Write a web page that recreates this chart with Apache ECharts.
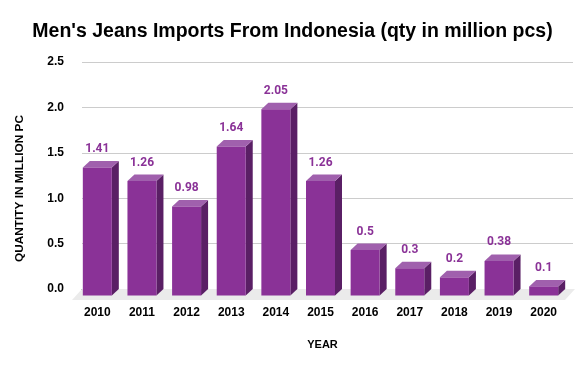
<!DOCTYPE html>
<html>
<head>
<meta charset="utf-8">
<script src="https://cdn.jsdelivr.net/npm/echarts@6/dist/echarts.min.js"></script>
<style>html,body{margin:0;padding:0;background:#fff}#c{width:585px;height:371px}</style>
</head>
<body>
<div id="c"></div>
<script>
var years = ['2010','2011','2012','2013','2014','2015','2016','2017','2018','2019','2020'];
var imports = [1.41, 1.26, 0.98, 1.64, 2.05, 1.26, 0.5, 0.3, 0.2, 0.38, 0.1];
var yTicks = [0, 0.5, 1.0, 1.5, 2.0, 2.5];

var DX = 7, DY = 6.5, HALF = 14.5;
var chart = echarts.init(document.getElementById('c'));

function renderBar(params, api) {
  var i = api.value(0), v = api.value(1);
  var top = api.coord([i, v]);
  var zero = api.coord([i, 0]);
  var cx = top[0] - DX;
  var fl = cx - HALF, fr = cx + HALF;
  var yt = top[1] + DY, yb = zero[1] + DY;
  return {
    type: 'group',
    children: [
      { type: 'polygon', shape: { points: [[fr, yt], [fr + DX, top[1]], [fr + DX, zero[1]], [fr, yb]] }, style: { fill: '#5a1f65' } },
      { type: 'polygon', shape: { points: [[fl, yt], [fr, yt], [fr + DX, top[1]], [fl + DX, top[1]]] }, style: { fill: '#a060ad' } },
      { type: 'rect', shape: { x: fl, y: yt, width: fr - fl, height: yb - yt }, style: { fill: '#8a3297' } },
      { type: 'text', x: cx, y: top[1] - 12, style: { text: String(v), fill: '#8a3297', font: 'bold 12px Roboto', align: 'center', verticalAlign: 'middle' } }
    ]
  };
}

function renderFloor(params, api) {
  if (params.dataIndex !== 0) return null;
  var cs = params.coordSys;
  var y0 = cs.y + cs.height;
  var x0 = cs.x, x1 = cs.x + cs.width;
  return {
    type: 'polygon',
    shape: { points: [[x0, y0], [x1 + 2, y0], [x1 - 8, y0 + 11], [x0 - 10, y0 + 11]] },
    style: { fill: '#ebebeb' },
    z2: -10
  };
}

chart.setOption({
  animation: false,
  title: {
    text: "Men's Jeans Imports From Indonesia (qty in million pcs)",
    left: 'center', top: 17,
    textStyle: { fontFamily: 'Liberation Sans, Arial', fontWeight: 'bold', fontSize: 19.5, color: '#000' }
  },
  grid: { left: 82, right: 12, top: 62, bottom: 82 },
  xAxis: {
    type: 'category', data: years,
    name: 'YEAR', nameLocation: 'middle', nameGap: 50,
    nameTextStyle: { fontFamily: 'Liberation Sans, Arial', fontWeight: 'bold', fontSize: 11, color: '#000', padding: [0, 10, 0, 0] },
    axisLine: { show: true, lineStyle: { color: '#333', width: 1 } },
    axisTick: { show: false },
    axisLabel: { margin: 18, fontFamily: 'Liberation Sans, Arial', fontWeight: 'bold', fontSize: 12, color: '#000', padding: [0, 14, 0, 0] }
  },
  yAxis: {
    type: 'value', min: 0, max: 2.5, interval: 0.5,
    name: 'QUANTITY IN MILLION PC', nameLocation: 'middle', nameGap: 56, nameRotate: 90,
    nameTextStyle: { fontFamily: 'Liberation Sans, Arial', fontWeight: 'bold', fontSize: 11.8, color: '#000', padding: [0, 26, 0, 0] },
    axisLine: { show: false }, axisTick: { show: false },
    splitLine: { lineStyle: { color: '#cccccc' } },
    axisLabel: { margin: 18, fontFamily: 'Liberation Sans, Arial', fontWeight: 'bold', fontSize: 12, color: '#000',
      formatter: function (v) { return yTicks.indexOf(v) >= 0 ? v.toFixed(1) : ''; } }
  },
  series: [
    { type: 'custom', renderItem: renderFloor, data: imports.map(function (v, i) { return [i, v]; }), z: 1, silent: true },
    { type: 'custom', renderItem: renderBar, data: imports.map(function (v, i) { return [i, v]; }), z: 5, clip: false }
  ]
});
</script>
</body>
</html>
